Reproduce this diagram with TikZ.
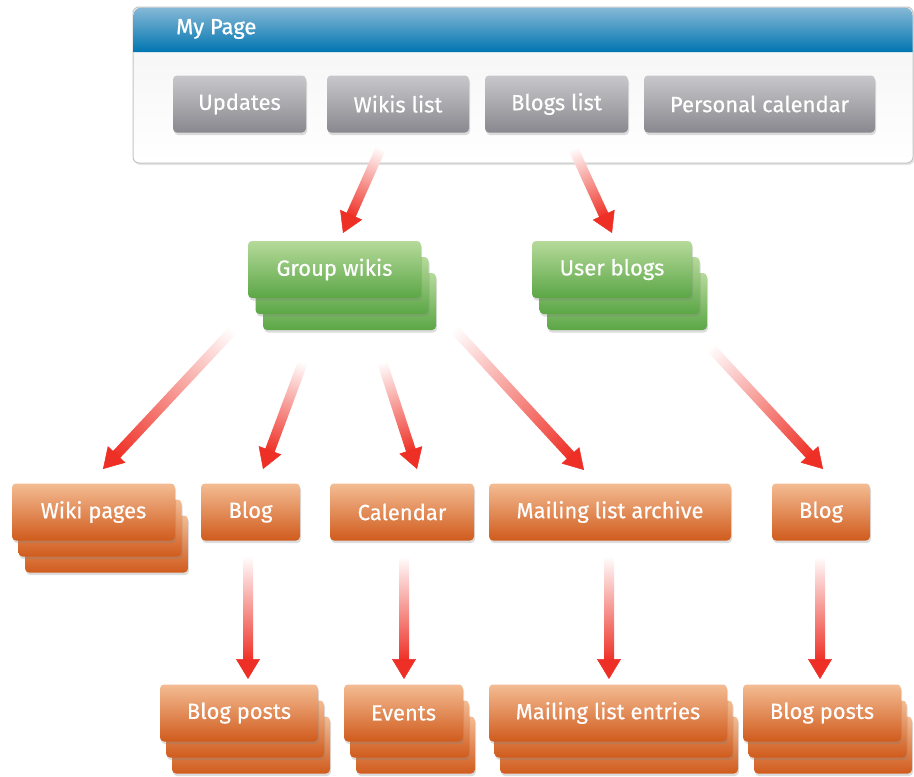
\documentclass[tikz,border=0pt]{standalone}
\usepackage{fontspec}
\setmainfont{Fira Sans}
\usetikzlibrary{calc,shadows,arrows.meta}
\definecolor{blueT}{HTML}{86B8D6}
\definecolor{blueB}{HTML}{0075B0}
\definecolor{grayT}{HTML}{C8C8CC}
\definecolor{grayB}{HTML}{88888E}
\definecolor{greenT}{HTML}{B6DA9A}
\definecolor{greenB}{HTML}{5BA646}
\definecolor{orangeT}{HTML}{F4BC93}
\definecolor{orangeB}{HTML}{D05B1D}
\definecolor{arrowmid}{HTML}{F5A689}
\definecolor{arrowred}{HTML}{EE2F25}
\definecolor{panelline}{HTML}{C4C4C4}
\definecolor{panelT}{HTML}{F3F3F3}

\newcommand{\gradarrow}[2]{%
  \path let \p1=($(#2)-(#1)$), \n1={atan2(\y1,\x1)}, \n2={veclen(\x1,\y1)} in
    \pgfextra{\xdef\arrang{\n1}\xdef\arrlen{\n2}};
  \begin{scope}[transform canvas={shift={(#1)}, rotate=\arrang}]
    \shade[left color=white, middle color=arrowmid, right color=arrowred]
      (0,-5) rectangle (\arrlen-18,5);
  \end{scope}
  \draw[headtip] ($(#2)!20pt!(#1)$) -- (#2);
}
\newcommand{\stacknode}[8]{% name, style, cx, cy, width, dx, dy, text
  \node[#2, minimum width=#5] (#1-3) at (#3+2*#6,#4+2*#7) {};
  \node[#2, minimum width=#5] (#1-2) at (#3+#6,#4+#7) {};
  \node[#2, minimum width=#5] (#1) at (#3,#4) {#8};
}

\begin{document}
\begin{tikzpicture}[x=1pt,y=-1pt,
  box/.style={rectangle, rounded corners=4pt, inner sep=0pt, minimum height=57pt,
    text=white, font=\fontsize{22}{26}\selectfont\addfontfeatures{FakeBold=0.4},
    drop shadow={opacity=0.28, shadow xshift=1pt, shadow yshift=-2.5pt}},
  graybox/.style={box, top color=grayT, bottom color=grayB},
  greenbox/.style={box, top color=greenT, bottom color=greenB},
  orangebox/.style={box, top color=orangeT, bottom color=orangeB},
  headtip/.style={draw=arrowred, line width=0.5pt,
    -{Triangle[width=24pt,length=20pt,fill=arrowred]}},
  panel/.style={rectangle, rounded corners=6pt, draw=panelline, line width=1pt,
    top color=panelT, bottom color=white, inner sep=0pt,
    drop shadow={opacity=0.2, shadow xshift=1.5pt, shadow yshift=-2pt}}
]
\useasboundingbox (0,0) rectangle (914,777);

% ---- top panel
\node[panel, minimum width=780pt, minimum height=156pt] (panel) at (523,85) {};
\path[top color=blueT, bottom color=blueB]
  (133.5,52) [rounded corners=8pt] -- (133.5,7.5) -- (912.5,7.5) [sharp corners] -- (912.5,52) -- cycle;
\node[anchor=west, text=white, font=\fontsize{22}{26}\selectfont\addfontfeatures{FakeBold=0.8}, inner sep=0pt] (mypage) at (176,29) {My Page};

\node[graybox, minimum width=133pt] (updates) at (239.5,104) {Updates};
\node[graybox, minimum width=142pt] (wikis) at (398,104) {Wikis list};
\node[graybox, minimum width=143pt] (blogs) at (556.5,104) {Blogs list};
\node[graybox, minimum width=231pt] (pcal) at (759.5,104) {Personal calendar};

% ---- green
\stacknode{gw}{greenbox}{334.5}{269.5}{173pt}{7.5}{16}{Group wikis}
\stacknode{ub}{greenbox}{612}{269.5}{160pt}{7.5}{16}{User blogs}

% ---- row 3
\stacknode{wp}{orangebox}{93.5}{512}{163pt}{6.5}{16}{Wiki pages}
\node[orangebox, minimum width=99pt] (blog1) at (250.5,512) {Blog};
\node[orangebox, minimum width=144pt] (cal) at (402,512) {Calendar};
\node[orangebox, minimum width=242pt] (mla) at (610,512) {Mailing list archive};
\node[orangebox, minimum width=98pt] (blog2) at (821,512) {Blog};

% ---- row 4
\stacknode{bp1}{orangebox}{239}{713}{158pt}{6}{16}{Blog posts}
\stacknode{ev}{orangebox}{403.5}{713}{119pt}{6}{16}{Events}
\stacknode{mle}{orangebox}{608}{713}{238pt}{5.5}{16}{Mailing list entries}
\stacknode{bp2}{orangebox}{822}{713}{158pt}{5.5}{16}{Blog posts}

% ---- connector end points
\coordinate (s1) at (381,148); \coordinate (t1) at (343,233);
\coordinate (s2) at (573,148); \coordinate (t2) at (612,233);
\coordinate (s3) at (233,330); \coordinate (t3) at (103,469);
\coordinate (s4) at (303,362); \coordinate (t4) at (263,469);
\coordinate (s5) at (382,362); \coordinate (t5) at (417,469);
\coordinate (s6) at (454,329); \coordinate (t6) at (584,470);
\coordinate (s7) at (710,347); \coordinate (t7) at (823,469);
\coordinate (s8) at (248,556); \coordinate (t8) at (248,679);
\coordinate (s9) at (404,556); \coordinate (t9) at (404,679);
\coordinate (s10) at (609,556); \coordinate (t10) at (609,679);
\coordinate (s11) at (820,556); \coordinate (t11) at (820,679);

\gradarrow{s1}{t1}
\gradarrow{s2}{t2}
\gradarrow{s3}{t3}
\gradarrow{s4}{t4}
\gradarrow{s5}{t5}
\gradarrow{s6}{t6}
\gradarrow{s7}{t7}
\gradarrow{s8}{t8}
\gradarrow{s9}{t9}
\gradarrow{s10}{t10}
\gradarrow{s11}{t11}
\end{tikzpicture}
\end{document}
